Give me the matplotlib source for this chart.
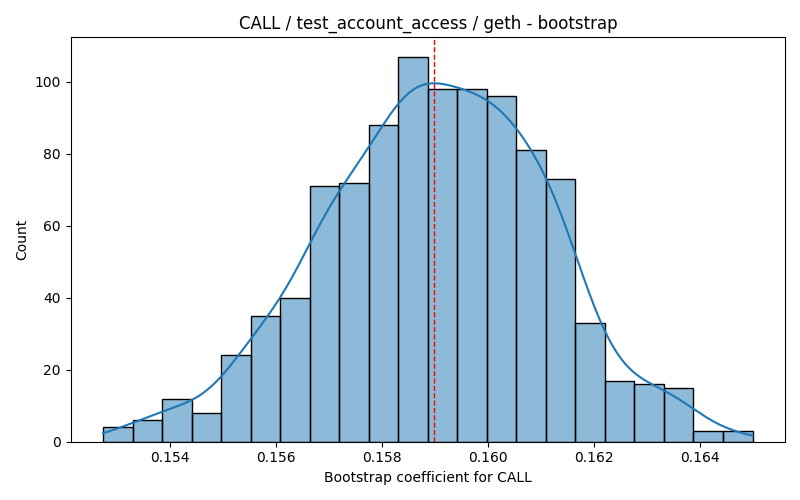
import numpy as np
import pandas as pd
import matplotlib
matplotlib.use("Agg")
import matplotlib.pyplot as plt
import seaborn as sns

# bootstrap histogram
bin_start = 0.15274
bin_end = 0.16500
counts = [4, 6, 12, 8, 24, 35, 40, 71, 72, 88, 107,
          98, 98, 96, 81, 73, 33, 17, 16, 15, 3, 3]
mean_coef = 0.15898

edges = np.linspace(bin_start, bin_end, len(counts) + 1)
centers = (edges[:-1] + edges[1:]) / 2
df = pd.DataFrame({'coef': centers, 'n': counts})

fig, ax = plt.subplots(figsize=(8, 5), dpi=100)
# weighted centres give a tiny effective n, so shrink the bandwidth back
sns.histplot(data=df, x='coef', weights='n', bins=len(counts),
             binrange=(bin_start, bin_end), kde=True, ax=ax,
             kde_kws={'bw_adjust': 0.42, 'cut': 1,
                      'clip': (bin_start, bin_end)})
ax.axvline(mean_coef, color='red', linestyle='--', linewidth=1)
ax.set_title("CALL / test_account_access / geth - bootstrap")
ax.set_xlabel("Bootstrap coefficient for CALL")
ax.set_ylabel("Count")
plt.tight_layout()
plt.savefig("out.png")
